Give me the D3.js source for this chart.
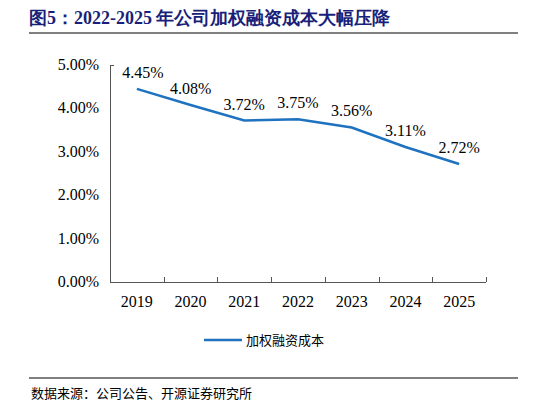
<!DOCTYPE html>
<html><head><meta charset="utf-8">
<script src="https://cdn.jsdelivr.net/npm/d3@7"></script>
<style>body{margin:0;background:#fff}
.sf{font-family:"Liberation Serif","Times New Roman",Times,"DejaVu Serif",serif}
.cj{font-family:"Noto Sans CJK SC",sans-serif}
</style>
</head><body>
<svg id="c" width="546" height="407"></svg>
<script>
var years = ['2019','2020','2021','2022','2023','2024','2025'];
var cost = [4.45, 4.08, 3.72, 3.75, 3.56, 3.11, 2.72];
var yTicks = [0,1,2,3,4,5];

var svg = d3.select('#c');

svg.append('text').attr('x', 29).attr('y', 24).attr('class', 'sf')
  .attr('fill', '#1a1f7a').attr('font-weight', 'bold').attr('font-size', 18)
  .text('图5：2022-2025 年公司加权融资成本大幅压降');
svg.append('line').attr('x1', 29).attr('x2', 518).attr('y1', 33).attr('y2', 33).attr('stroke', '#000');

var x = d3.scaleBand().domain(years).range([110, 486]);
var y = d3.scaleLinear().domain([0, 5]).range([282, 65]);

svg.selectAll('.yl').data(yTicks).enter().append('text').attr('class', 'sf')
  .attr('x', 99).attr('y', function(d){ return y(d) + 5; })
  .attr('text-anchor', 'end').attr('font-size', 16)
  .text(function(d){ return d.toFixed(2) + '%'; });

var ax = svg.append('g').attr('stroke', '#555').attr('stroke-width', 1);
ax.append('line').attr('x1', 110.5).attr('x2', 110.5).attr('y1', y(5)).attr('y2', y(0));
ax.append('line').attr('x1', 110.5).attr('x2', 114).attr('y1', y(5) + .5).attr('y2', y(5) + .5);
ax.append('line').attr('x1', 110).attr('x2', 486).attr('y1', y(0) + .5).attr('y2', y(0) + .5);
var bounds = years.map(function(d){ return x(d); }).concat([x.range()[1]]);
ax.selectAll('.tk').data(bounds).enter().append('line')
  .attr('x1', function(d){ return Math.round(d) + .5; })
  .attr('x2', function(d){ return Math.round(d) + .5; })
  .attr('y1', y(0)).attr('y2', y(0) - 5);

svg.selectAll('.xl').data(years).enter().append('text').attr('class', 'sf')
  .attr('x', function(d){ return x(d) + x.bandwidth() / 2; }).attr('y', 307)
  .attr('text-anchor', 'middle').attr('font-size', 16)
  .text(function(d){ return d; });

var line = d3.line()
  .x(function(d, i){ return x(years[i]) + x.bandwidth() / 2; })
  .y(function(d){ return y(d); });
svg.append('path').datum(cost).attr('d', line)
  .attr('fill', 'none').attr('stroke', '#1f72c0').attr('stroke-width', 2.5);

svg.selectAll('.dl').data(cost).enter().append('text').attr('class', 'sf')
  .attr('x', function(d, i){ return x(years[i]) + x.bandwidth() / 2 + (i === 0 ? 6 : 0); })
  .attr('y', function(d){ return y(d) - 11; })
  .attr('text-anchor', 'middle').attr('font-size', 16)
  .text(function(d){ return d.toFixed(2) + '%'; });

svg.append('line').attr('x1', 204).attr('x2', 242).attr('y1', 340).attr('y2', 340)
  .attr('stroke', '#1f72c0').attr('stroke-width', 2.5);
svg.append('text').attr('class', 'cj').attr('x', 246).attr('y', 345).attr('font-size', 13)
  .text('加权融资成本');

svg.append('line').attr('x1', 29).attr('x2', 518).attr('y1', 378).attr('y2', 378).attr('stroke', '#000');
svg.append('text').attr('class', 'cj').attr('x', 31).attr('y', 398).attr('font-size', 13)
  .text('数据来源：公司公告、开源证券研究所');
</script>
</body></html>
